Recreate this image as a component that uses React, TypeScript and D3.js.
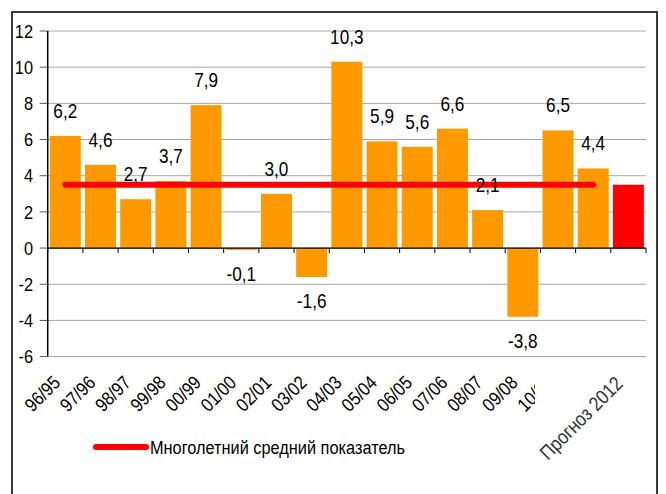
import React from 'react';
import * as d3 from 'd3';

// data
const categories = [
  '96/95', '97/96', '98/97', '99/98', '00/99', '01/00', '02/01', '03/02', '04/03',
  '05/04', '06/05', '07/06', '08/07', '09/08', '10/09', '11/10', 'Прогноз 2012',
];
const growth = [6.2, 4.6, 2.7, 3.7, 7.9, -0.1, 3.0, -1.6, 10.3, 5.9, 5.6, 6.6, 2.1, -3.8, 6.5, 4.4, 3.5];
const showLabel = [true, true, true, true, true, true, true, true, true, true, true, true, true, true, true, true, false];
const longTermAverage = 3.5;
const yTicks = [-6, -4, -2, 0, 2, 4, 6, 8, 10, 12];
const legendLabel = 'Многолетний средний показатель';

const W = 666;
const H = 494;
const FONT = "'Liberation Sans', Arial, sans-serif";
const ORANGE = '#FF9900';
const RED = '#FF0000';
const NARROW = 0.86; // the original uses a narrow face, squeeze a regular one

const fmt = (v: number) => v.toFixed(1).replace('.', ',');

// condensed text: squeeze horizontally around the anchor point
const Narrow: React.FC<{
  x: number; y: number; rotate?: number; anchor?: 'start' | 'middle' | 'end';
  size: number; fill?: string; dy?: string; children: React.ReactNode;
}> = ({ x, y, rotate = 0, anchor = 'start', size, fill = '#000', dy, children }) => (
  <g transform={`translate(${x},${y}) rotate(${rotate}) scale(${NARROW},1)`}>
    <text textAnchor={anchor} fontSize={size} fill={fill} dy={dy}>{children}</text>
  </g>
);

const App: React.FC = () => {
  const plot = { left: 47.7, right: 646, top: 31, bottom: 356.6 };

  const x = d3.scaleBand<string>()
    .domain(categories)
    .range([plot.left, plot.right])
    .paddingInner(0.12)
    .paddingOuter(0.06);

  const y = d3.scaleLinear().domain([-6, 12]).range([plot.bottom, plot.top]);
  const step = (plot.right - plot.left) / categories.length;
  const y0 = y(0);
  const forecastIdx = categories.length - 1;
  const mid = (c: string) => (x(c) ?? 0) + x.bandwidth() / 2;

  return (
    <svg width={W} height={H} style={{ position: 'absolute', left: 0, top: 0, background: '#fff' }}
      fontFamily={FONT}>
      {/* outer frame */}
      <rect x={12} y={12} width={645} height={H + 10} fill="none" stroke="#3a3a3a" strokeWidth={2} />

      {/* grid lines + y ticks */}
      {yTicks.map(t => (
        <g key={t}>
          <line x1={plot.left} x2={plot.right} y1={y(t)} y2={y(t)} stroke="#a6a6a6" strokeWidth={1} />
          <line x1={plot.left - 8} x2={plot.left} y1={y(t)} y2={y(t)} stroke="#555" strokeWidth={1} />
          <Narrow x={33} y={y(t)} anchor="end" size={19} dy="0.35em">{t}</Narrow>
        </g>
      ))}

      {/* bars */}
      {growth.map((v, i) => (
        <rect key={i}
          x={x(categories[i])}
          width={x.bandwidth()}
          y={Math.min(y(v), y0)}
          height={Math.abs(y(v) - y0)}
          fill={i === forecastIdx ? RED : ORANGE} />
      ))}

      {/* axes */}
      <line x1={plot.left} x2={plot.left} y1={plot.top} y2={plot.bottom} stroke="#000" strokeWidth={1.5} />
      <line x1={plot.left} x2={plot.right} y1={y0} y2={y0} stroke="#000" strokeWidth={1.2} />
      {d3.range(categories.length + 1).map(k => (
        <line key={k} x1={plot.left + k * step} x2={plot.left + k * step} y1={y0} y2={y0 + 5}
          stroke="#000" strokeWidth={1} />
      ))}

      {/* long-term average */}
      <line
        x1={mid(categories[0])}
        x2={mid(categories[forecastIdx - 1])}
        y1={y(longTermAverage)} y2={y(longTermAverage)}
        stroke={RED} strokeWidth={6} strokeLinecap="round" />

      {/* value labels */}
      {growth.map((v, i) => {
        if (!showLabel[i]) return null;
        const ty = v >= 0 ? y(v) - 18 : y(v) + 31;
        return <Narrow key={i} x={mid(categories[i])} y={ty} anchor="middle" size={20}>{fmt(v)}</Narrow>;
      })}

      {/* category labels, centred on a point down-left of the band */}
      {categories.slice(0, forecastIdx).map(c => (
        <Narrow key={c} x={mid(c) - 23} y={plot.bottom + 37} rotate={-45} anchor="middle" size={19}
          dy="0.35em">{c}</Narrow>
      ))}

      {/* forecast label sits on a white patch that hides the last tick labels */}
      <rect x={535} y={plot.bottom + 6} width={105} height={110} fill="#fff" />
      <Narrow x={581} y={418} rotate={-45} anchor="middle" size={20} fill="#333" dy="0.35em">
        {categories[forecastIdx]}
      </Narrow>

      {/* legend */}
      <line x1={96} x2={146} y1={447} y2={447} stroke={RED} strokeWidth={6} strokeLinecap="round" />
      <Narrow x={150} y={447} size={19} dy="0.35em">{legendLabel}</Narrow>
    </svg>
  );
};

export default App;
